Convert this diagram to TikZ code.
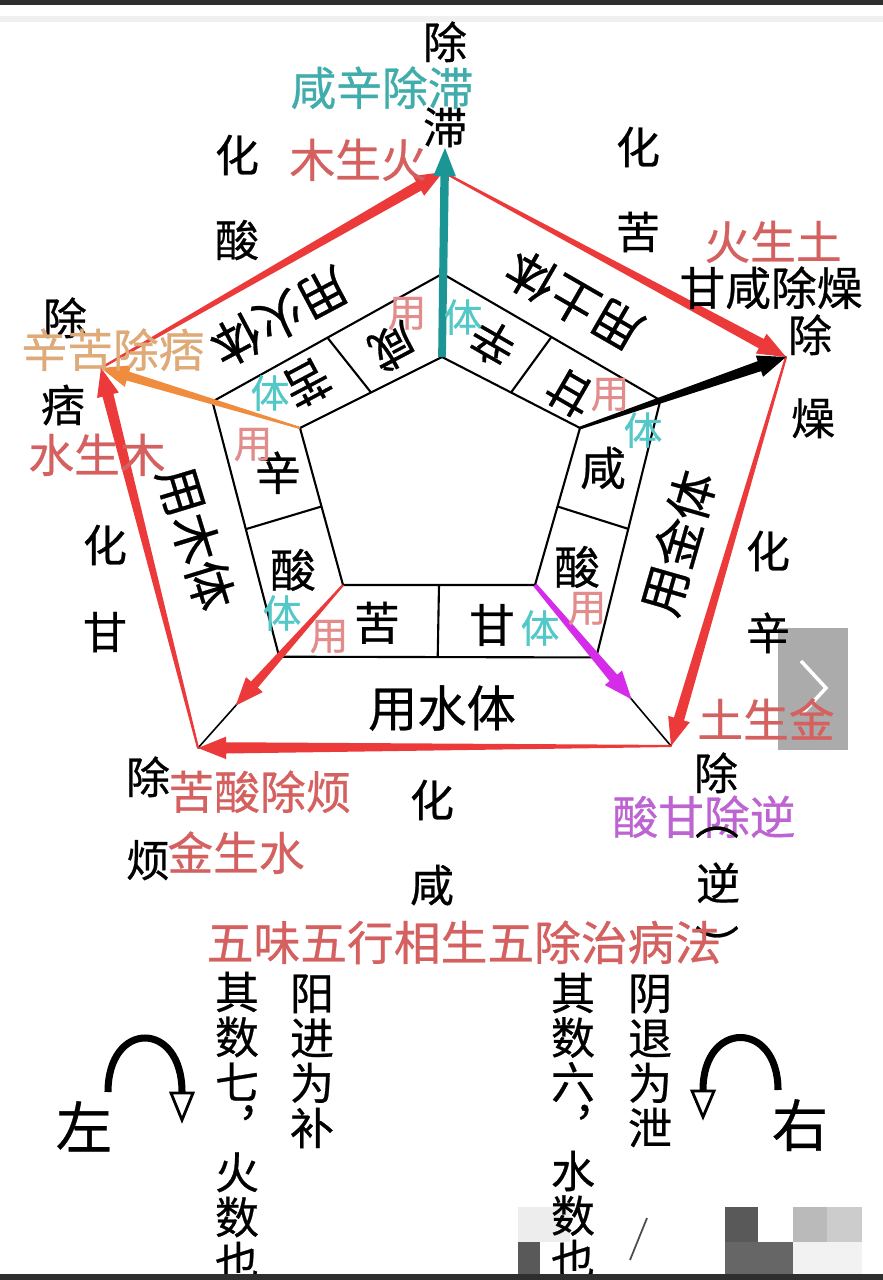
\documentclass[tikz,border=0pt]{standalone}
\usepackage{fontspec}
\setmainfont{Noto Sans CJK SC}[FakeBold=0.6]
\usetikzlibrary{calc}

\definecolor{arrred}{RGB}{236,58,58}
\definecolor{edgered}{RGB}{150,45,45}
\definecolor{txtred}{RGB}{212,96,96}
\definecolor{tealarr}{RGB}{28,150,148}
\definecolor{tealtxt}{RGB}{64,172,172}
\definecolor{orngarr}{RGB}{240,140,62}
\definecolor{orngtxt}{RGB}{222,170,120}
\definecolor{magarr}{RGB}{212,44,232}
\definecolor{magtxt}{RGB}{190,100,210}
\definecolor{yongc}{RGB}{226,140,140}
\definecolor{tic}{RGB}{84,200,200}

\tikzset{
  hz/.style={inner sep=0pt, font=\fontsize{12.5}{15}\selectfont, text height=11pt, text depth=1.5pt},
  say/.style={inner sep=0pt, font=\fontsize{13}{15}\selectfont, text height=11.4pt, text depth=1.6pt},
  band/.style={inner sep=0pt, font=\fontsize{14}{16}\selectfont, text height=12.3pt, text depth=1.7pt},
  small/.style={inner sep=0pt, font=\fontsize{11}{13}\selectfont, text height=9.7pt, text depth=1.3pt},
  yong/.style={small, text=yongc},
  ti/.style={small, text=tic},
  big/.style={inner sep=0pt, font=\fontsize{16}{18}\selectfont, text height=14.1pt, text depth=1.9pt},
  frame/.style={line width=0.6pt}
}

% colour, from, to, half width at tail, half width at head
\newcommand\taper[5]{%
  \coordinate (hb) at ($(#3)!8pt!(#2)$);
  \fill[#1] ($(#2)!#4!90:(#3)$) -- ($(hb)!#5!90:(#3)$) -- ($(hb)!3.2pt!90:(#3)$) -- (#3)
    -- ($(hb)!3.2pt!-90:(#3)$) -- ($(hb)!#5!-90:(#3)$) -- ($(#2)!#4!-90:(#3)$) -- cycle;
}

\begin{document}
\begin{tikzpicture}[x=0.01cm,y=-0.01cm]
\useasboundingbox (0,0) rectangle (883,1280);
\fill[white] (0,0) rectangle (883,1280);
\fill[black!6] (0,16) rectangle (883,22);

% vertices
\coordinate (oT) at (443,172);
\coordinate (oR) at (786,357);
\coordinate (oBR) at (671,746);
\coordinate (oBL) at (198,748);
\coordinate (oL) at (101,368);
\coordinate (iT) at (442,357);
\coordinate (iR) at (580,428);
\coordinate (iBR) at (535,585);
\coordinate (iBL) at (343,585);
\coordinate (iL) at (300,428);
\coordinate (mT) at ($(iT)!0.45!(oT)$);
\coordinate (mR) at ($(iR)!0.39!(oR)$);
\coordinate (mBR) at ($(iBR)!0.45!(oBR)$);
\coordinate (mBL) at ($(iBL)!0.44!(oBL)$);
\coordinate (mL) at ($(iL)!0.44!(oL)$);

% pentagons and cells
\draw[edgered, line width=0.4pt] (oT) -- (oR) -- (oBR) -- (oBL) -- (oL) -- cycle;
\foreach \v in {T,R,BR,BL,L}
  \draw[line width=0.45pt] (i\v) -- (o\v);
\draw[frame] (mT) -- (mR) -- (mBR) -- (mBL) -- (mL) -- cycle;
\draw[frame] (iT) -- (iR) -- (iBR) -- (iBL) -- (iL) -- cycle;
\draw[frame] ($(iT)!0.5!(iL)$) -- ($(mT)!0.5!(mL)$);
\draw[frame] ($(iT)!0.5!(iR)$) -- ($(mT)!0.5!(mR)$);
\draw[frame] ($(iR)!0.5!(iBR)$) -- ($(mR)!0.5!(mBR)$);
\draw[frame] ($(iBR)!0.5!(iBL)$) -- ($(mBR)!0.5!(mBL)$);
\draw[frame] ($(iBL)!0.5!(iL)$) -- ($(mBL)!0.5!(mL)$);

% generating cycle
\taper{arrred}{oL}{oT}{0.3pt}{1.5pt}
\taper{arrred}{oT}{oR}{0.3pt}{1.5pt}
\taper{arrred}{oR}{oBR}{0.3pt}{1.5pt}
\taper{arrred}{oBR}{oBL}{0.3pt}{1.6pt}
\taper{arrred}{oBL}{oL}{0.3pt}{1.6pt}

% removing arrows
\coordinate (tealtip) at (445,148);
\coordinate (magtip) at ($(iBR)!0.71!(oBR)$);
\coordinate (redtip) at ($(iBL)!0.74!(oBL)$);
\taper{tealarr}{iT}{tealtip}{1.1pt}{1.2pt}
\taper{black}{iR}{oR}{0.4pt}{1.5pt}
\taper{magarr}{iBR}{magtip}{0.6pt}{1.4pt}
\taper{arrred}{iBL}{redtip}{0.3pt}{1.3pt}
\taper{orngarr}{iL}{oL}{0.3pt}{1.3pt}

% side panel
\fill[black!33] (778,628) rectangle (848,750);
\draw[white, line width=1pt] (801,661) -- (826,688) -- (801,715);

% outer labels
\node[hz] (chuT) at (445,42) {除};
\node[hz] (zhi) at (445,127) {滞};
\node[say, text=tealtxt] (xinzhi) at (382,88) {咸辛除滞};
\node[hz] (huaA) at (237,155) {化};
\node[hz] (suan) at (237,240) {酸};
\node[say, text=txtred] (muhuo) at (358,160) {木生火};
\node[hz] (huaB) at (638,147) {化};
\node[hz] (ku) at (638,232) {苦};
\node[say, text=txtred] (huotu) at (773,242) {火生土};
\node[say] (ganzao) at (771,288) {甘咸除燥};
\node[hz] (chuR) at (810,335) {除};
\node[hz] (zao) at (813,418) {燥};
\node[hz] (chuL) at (65,318) {除};
\node[say, text=orngtxt] (kupi) at (113,350) {辛苦除痞};
\node[hz] (pi) at (63,405) {痞};
\node[say, text=txtred] (shuimu) at (97,455) {水生木};
\node[hz] (huaC) at (105,545) {化};
\node[hz] (gan) at (105,632) {甘};
\node[hz] (huaD) at (768,551) {化};
\node[hz] (xin) at (768,633) {辛};
\node[say, text=txtred] (tujin) at (766,720) {土生金};
\node[hz] (chuBL) at (148,777) {除};
\node[say, text=txtred] (suanfan) at (260,792) {苦酸除烦};
\node[hz] (fan) at (148,860) {烦};
\node[say, text=txtred] (jinshui) at (236,853) {金生水};
\node[hz] (huaE) at (432,800) {化};
\node[hz] (xian) at (432,885) {咸};
\node[hz] (chuBR) at (716,773) {除};
\node[say, text=magtxt] (ganni) at (704,817) {酸甘除逆};
\node[hz] (kuoA) at (717,818) {︵};
\node[hz] (ni) at (718,883) {逆};
\node[hz] (kuoB) at (717,946) {︶};
\node[say, font=\fontsize{13.3}{15}\selectfont, text=txtred] (title) at (464,943) {五味五行相生五除治病法};

% bands
\node[band, rotate=208] (huo) at (280,317) {用火体};
\node[band, rotate=150] (tu) at (574,301) {用土体};
\node[band, rotate=74] (jin) at (678,543) {用金体};
\node[band, rotate=-73] (mu) at (196,538) {用木体};
\node[band] (shui) at (442,708) {用水体};

% cells
\node[say, rotate=208] (cxian) at (393,347) {咸};
\node[say, rotate=208] (cku) at (307,383) {苦};
\node[say, rotate=150] (cxin) at (493,343) {辛};
\node[say, rotate=150] (cgan) at (570,393) {甘};
\node[say] (cxianR) at (603,468) {咸};
\node[say] (csuanR) at (577,567) {酸};
\node[say] (cganB) at (492,625) {甘};
\node[say] (ckuB) at (377,623) {苦};
\node[say] (cxinL) at (278,473) {辛};
\node[say] (csuanL) at (293,570) {酸};

% yong / ti
\node[yong] (y1) at (407,312) {用};
\node[ti] (t1) at (463,317) {体};
\node[yong] (y2) at (610,393) {用};
\node[ti] (t2) at (643,430) {体};
\node[yong] (y3) at (587,607) {用};
\node[ti] (t3) at (540,628) {体};
\node[ti] (t4) at (282,613) {体};
\node[yong] (y4) at (329,635) {用};
\node[ti] (t5) at (270,393) {体};
\node[yong] (y5) at (253,443) {用};

% watermark blocks
\fill[black!65] (518,1242) rectangle (540,1277);
\fill[black!7] (518,1207) rectangle (570,1242);
\fill[black!65] (725,1207) rectangle (758,1242);
\fill[black!60] (725,1242) rectangle (793,1277);
\fill[black!27] (793,1207) rectangle (827,1242);
\fill[black!20] (827,1207) rectangle (862,1242);
\fill[black!5] (793,1242) rectangle (862,1277);
\draw[black!70, line width=0.5pt] (647,1218) -- (630,1260);

% left and right turns
\node[big] (zuo) at (84,1127) {左};
\node[big] (you) at (800,1125) {右};
\coordinate (la) at (108,1092);
\coordinate (lb) at (182,1092);
\draw[line width=2pt] (la) .. controls (108,1020) and (182,1020) .. (lb);
\draw[fill=white, line width=0.8pt] (171,1093) -- (193,1093) -- (182,1120) -- cycle;
\coordinate (ra) at (778,1090);
\coordinate (rb) at (703,1090);
\draw[line width=2pt] (ra) .. controls (778,1020) and (703,1020) .. (rb);
\draw[fill=white, line width=0.8pt] (692,1091) -- (714,1091) -- (703,1117) -- cycle;

% columns
\foreach \c [count=\i from 0] in {其,数,七,︐,火,数,也}
  \node[hz] (qa\i) at (237,992+45*\i) {\c};
\foreach \c [count=\i from 0] in {阳,进,为,补}
  \node[hz] (ya\i) at (312,993+45*\i) {\c};
\foreach \c [count=\i from 0] in {其,数,六,︐,水,数,也}
  \node[hz] (qb\i) at (573,993+44.5*\i) {\c};
\foreach \c [count=\i from 0] in {阴,退,为,泄}
  \node[hz] (yb\i) at (650,993+45*\i) {\c};

% screen edges
\fill[black!82] (0,0) rectangle (883,5);
\fill[black!82] (0,1274) rectangle (883,1280);
\end{tikzpicture}
\end{document}
